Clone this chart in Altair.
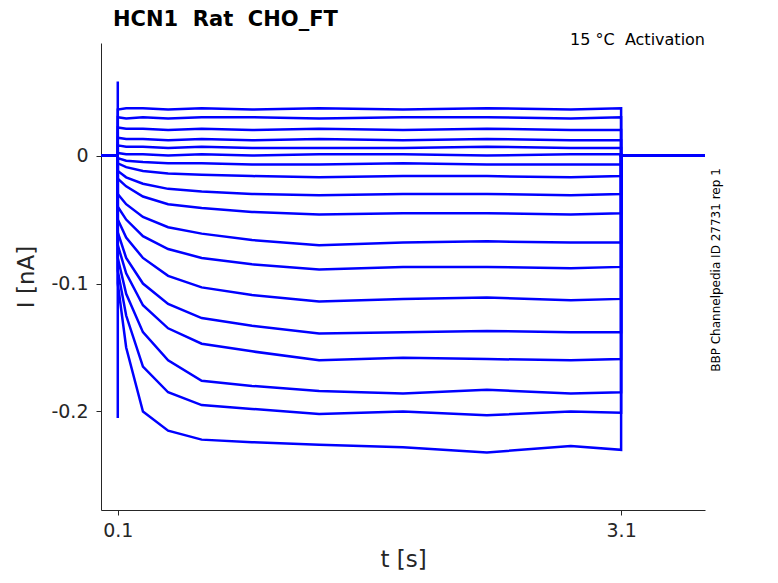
"""
    HCN1 activation current traces (15 C) redrawn with Altair.
"""
import pandas as pd
import altair as alt

# sample times (s) during the voltage step
step_t = [0.1, 0.15, 0.25, 0.4, 0.6, 0.9, 1.3, 1.8, 2.3, 2.8, 3.1]

# current (nA) of each trace at step_t
traces = [
    [0.036, 0.037, 0.037, 0.036, 0.037, 0.036, 0.037, 0.036, 0.037, 0.036, 0.037],
    [0.030, 0.029, 0.030, 0.029, 0.030, 0.030, 0.029, 0.030, 0.030, 0.029, 0.030],
    [0.022, 0.021, 0.021, 0.020, 0.021, 0.020, 0.021, 0.020, 0.021, 0.020, 0.020],
    [0.014, 0.013, 0.013, 0.012, 0.013, 0.012, 0.013, 0.012, 0.013, 0.012, 0.012],
    [0.008, 0.007, 0.007, 0.006, 0.007, 0.006, 0.006, 0.006, 0.007, 0.006, 0.006],
    [0.002, 0.001, 0.001, 0.000, 0.001, 0.000, 0.001, 0.001, 0.000, 0.001, 0.001],
    [-0.002, -0.004, -0.005, -0.006, -0.006, -0.007, -0.007, -0.006, -0.007, -0.007, -0.007],
    [-0.006, -0.009, -0.012, -0.014, -0.015, -0.016, -0.017, -0.016, -0.016, -0.017, -0.016],
    [-0.012, -0.017, -0.022, -0.026, -0.028, -0.030, -0.031, -0.030, -0.030, -0.031, -0.030],
    [-0.018, -0.024, -0.032, -0.038, -0.041, -0.044, -0.046, -0.045, -0.045, -0.046, -0.045],
    [-0.030, -0.038, -0.048, -0.056, -0.061, -0.066, -0.070, -0.068, -0.067, -0.068, -0.068],
    [-0.040, -0.050, -0.063, -0.073, -0.080, -0.085, -0.089, -0.087, -0.087, -0.088, -0.087],
    [-0.050, -0.064, -0.080, -0.094, -0.103, -0.109, -0.114, -0.112, -0.111, -0.113, -0.112],
    [-0.060, -0.080, -0.100, -0.116, -0.127, -0.133, -0.139, -0.138, -0.137, -0.138, -0.138],
    [-0.070, -0.092, -0.117, -0.135, -0.147, -0.153, -0.160, -0.158, -0.159, -0.160, -0.159],
    [-0.080, -0.108, -0.138, -0.160, -0.176, -0.180, -0.184, -0.186, -0.183, -0.186, -0.185],
    [-0.090, -0.125, -0.165, -0.185, -0.195, -0.198, -0.202, -0.200, -0.203, -0.200, -0.201],
    [-0.100, -0.150, -0.200, -0.215, -0.222, -0.224, -0.226, -0.228, -0.232, -0.227, -0.230],
]

# capacitive transient at step onset
spike_t = [0.1, 0.1, 0.1, 0.1]
spike_i = [0.0, 0.058, -0.205, 0.0]

x_ticks = [0.1, 3.1]
y_ticks = [0, -0.1, -0.2]

rows = []
for k, vals in enumerate(traces):
    pts = [(0.0, 0.0), (0.1, 0.0)] + list(zip(step_t, vals)) + [(3.1, 0.0), (3.6, 0.0)]
    for j, (t, i) in enumerate(pts):
        rows.append({'trace': f'tr{k}', 'order': j, 't': t, 'I': i})
for j, (t, i) in enumerate(zip(spike_t, spike_i)):
    rows.append({'trace': 'spike', 'order': j, 't': t, 'I': i})
df = pd.DataFrame(rows)

NB = '\u00a0'
W, H = 604, 467
axis_style = dict(grid=False, labelFontSize=19, titleFontSize=23, titleFontWeight='normal',
                  labelColor='#262626', titleColor='#262626', domainColor='#262626',
                  tickColor='#262626')
lines = alt.Chart(df).mark_line(color='#0000ff', strokeWidth=2.5, clip=True).encode(
    x=alt.X('t:Q', title='t [s]', scale=alt.Scale(domain=[0, 3.6], nice=False, zero=False),
            axis=alt.Axis(values=x_ticks, format='.1f', labelPadding=6, titlePadding=8,
                          **axis_style)),
    y=alt.Y('I:Q', title='I [nA]', scale=alt.Scale(domain=[-0.277, 0.088], nice=False, zero=False),
            axis=alt.Axis(values=y_ticks,
                          labelExpr="datum.value == 0 ? '0' : replace(format(datum.value, '.1f'), '\u2212', '-')",
                          labelPadding=8, titlePadding=12, **axis_style)),
    detail='trace:N',
    order='order:Q',
)

cond = alt.Chart(pd.DataFrame({'s': [f'15 °C{NB}{NB}Activation']})).mark_text(
    align='right', baseline='middle', fontSize=16, color='black'
).encode(x=alt.value(W), y=alt.value(-3), text='s:N')

ident = alt.Chart(pd.DataFrame({'s': ['BBP Channelpedia ID 27731 rep 1']})).mark_text(
    angle=270, align='center', baseline='middle', fontSize=12, color='black'
).encode(x=alt.value(W + 11), y=alt.value(227), text='s:N')

chart = (lines + cond + ident).properties(
    width=W, height=H,
    autosize='none',
    padding={'left': 93, 'top': 35, 'right': 60, 'bottom': 64},
    title=alt.TitleParams(f'HCN1{NB}{NB}Rat{NB}{NB}CHO_FT', anchor='start', frame='group',
                          dx=12, fontSize=21, fontWeight='bold', offset=2, color='black'),
).configure(font='DejaVu Sans').configure_view(stroke=None)

chart.save("out.html", embed_options={"renderer": "svg", "actions": False})
